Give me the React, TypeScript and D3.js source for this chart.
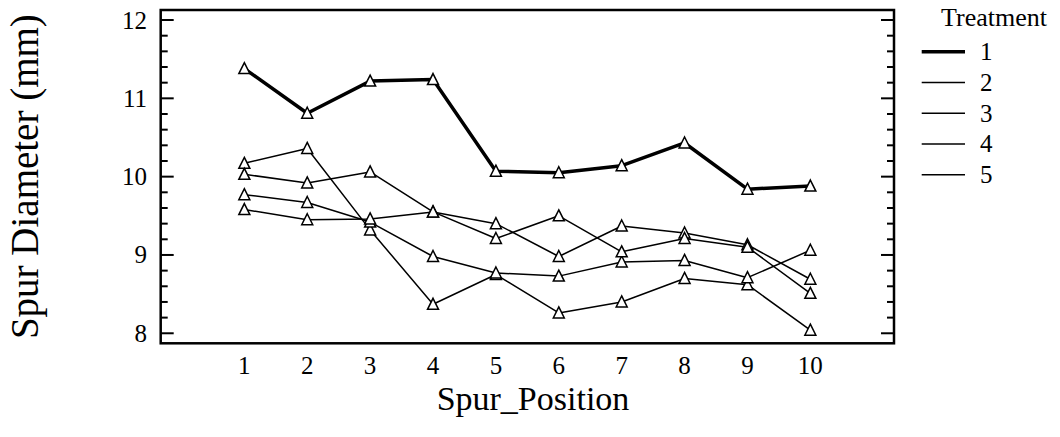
import React, { useEffect, useRef } from 'react';
import * as d3 from 'd3';

// Spur position along the shoot (x axis)
const positions = [1, 2, 3, 4, 5, 6, 7, 8, 9, 10];
const treatmentNames = ['1', '2', '3', '4', '5'];

// Mean spur diameter (mm) per treatment
const treatment1 = [11.38, 10.81, 11.22, 11.24, 10.07, 10.05, 10.14, 10.43, 9.84, 9.88];
const treatment2 = [10.17, 10.36, 9.32, 8.37, 8.75, 8.26, 8.4, 8.7, 8.62, 8.04];
const treatment3 = [10.03, 9.92, 10.06, 9.55, 9.4, 8.98, 9.37, 9.28, 9.13, 8.69];
const treatment4 = [9.77, 9.67, 9.42, 8.98, 8.77, 8.73, 8.91, 8.93, 8.71, 9.06];
const treatment5 = [9.58, 9.45, 9.46, 9.55, 9.21, 9.5, 9.04, 9.21, 9.1, 8.51];

const yMajorTicks = [8, 9, 10, 11, 12];
const yMinorTicks = d3.range(8, 12.0001, 0.2);

const FONT = "'Liberation Serif', 'Times New Roman', serif";

const App: React.FC = () => {
  const chartRef = useRef<SVGSVGElement>(null);

  useEffect(() => {
    if (!chartRef.current) return;
    const svg = d3.select(chartRef.current);
    svg.selectAll('*').remove();

    // plot box
    const left = 160.7, right = 894, top = 10, bottom = 343.3;

    const x = d3.scaleLinear().domain([-0.33, 11.33]).range([left, right]);
    const y = d3.scaleLinear().domain([7.872, 12.128]).range([bottom, top]);

    const series = [treatment1, treatment2, treatment3, treatment4, treatment5];

    const label = (tx: number, ty: number, text: string, size: number, anchor: string) =>
      svg.append('text')
        .attr('x', tx)
        .attr('y', ty)
        .attr('text-anchor', anchor)
        .attr('font-family', FONT)
        .attr('font-size', size)
        .attr('fill', '#000')
        .text(text);

    // y ticks, both sides, pointing inward
    const tickG = svg.append('g').attr('stroke', '#000').attr('stroke-width', 2);
    yMinorTicks.forEach(v => {
      const major = Math.abs(v - Math.round(v)) < 1e-6;
      const len = major ? 13 : 7;
      tickG.append('line').attr('x1', left).attr('x2', left + len).attr('y1', y(v)).attr('y2', y(v));
      tickG.append('line').attr('x1', right).attr('x2', right - len).attr('y1', y(v)).attr('y2', y(v));
    });

    yMajorTicks.forEach(v => label(147, y(v) + 8.5, String(v), 25, 'end'));
    positions.forEach(p => label(x(p), 374, String(p), 25, 'middle'));

    // lines
    const line = d3.line<number>()
      .x((_, i) => x(positions[i]))
      .y(d => y(d));

    series.forEach((s, k) => {
      svg.append('path')
        .datum(s)
        .attr('fill', 'none')
        .attr('stroke', '#000')
        .attr('stroke-width', k === 0 ? 3.5 : 1.5)
        .attr('stroke-linejoin', 'round')
        .attr('d', line);
    });

    // open triangle markers
    const tri = 'M0,-6L5.5,5L-5.5,5Z';
    series.forEach(s => {
      svg.append('g').selectAll('path')
        .data(s)
        .join('path')
        .attr('transform', (d, i) => `translate(${x(positions[i])},${y(d)})`)
        .attr('d', tri)
        .attr('fill', '#fff')
        .attr('stroke', '#000')
        .attr('stroke-width', 1.5);
    });

    // plot frame
    svg.append('rect')
      .attr('x', left).attr('y', top)
      .attr('width', right - left).attr('height', bottom - top)
      .attr('fill', 'none')
      .attr('stroke', '#000')
      .attr('stroke-width', 2.5);

    // axis titles
    label(533, 410, 'Spur_Position', 34, 'middle');

    svg.append('text')
      .attr('transform', `translate(38,${(top + bottom) / 2}) rotate(-90)`)
      .attr('text-anchor', 'middle')
      .attr('font-family', FONT)
      .attr('font-size', 39)
      .text('Spur Diameter (mm)');

    // legend
    label(941, 26, 'Treatment', 26, 'start');
    treatmentNames.forEach((name, i) => {
      const ry = 51.7 + i * 30.75;
      svg.append('line')
        .attr('x1', 921.7).attr('x2', 965)
        .attr('y1', ry).attr('y2', ry)
        .attr('stroke', '#000')
        .attr('stroke-width', i === 0 ? 3.5 : 1.5);
      label(980, ry + 8.5, name, 25, 'start');
    });
  }, []);

  return (
    <svg
      ref={chartRef}
      width={1060}
      height={437}
      style={{ position: 'absolute', left: 0, top: 0, background: '#fff' }}
    />
  );
};

export default App;
